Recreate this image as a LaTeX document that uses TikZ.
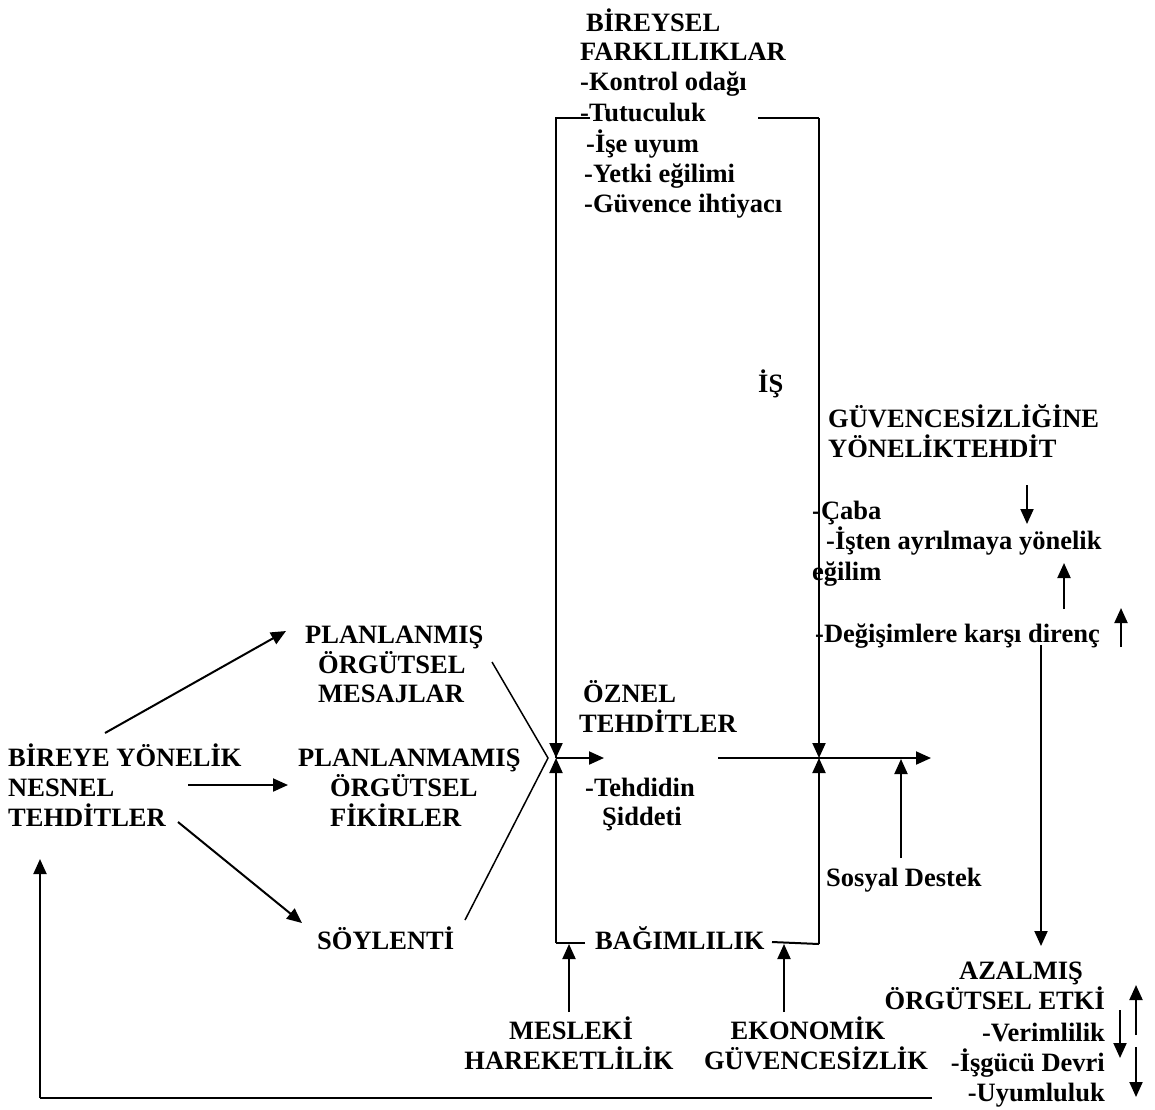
\documentclass[tikz,border=0pt]{standalone}
\usepackage{fontspec}
\setmainfont{Liberation Serif}
\usetikzlibrary{arrows.meta}
\begin{document}
\begin{tikzpicture}[x=1pt,y=-1pt,
  lbl/.style={font=\fontsize{26.5}{30}\selectfont\bfseries, inner sep=0pt, anchor=base west},
  lblr/.style={lbl, anchor=base east},
  lblc/.style={lbl, anchor=base},
  ln/.style={line width=2pt},
  thin/.style={line width=1.5pt},
  arr/.style={ln, -{Triangle[length=15pt,width=13pt]}}]
\useasboundingbox[fill=white] (0,0) rectangle (1155,1109);

% top block
\node[lbl] (b1) at (586,31) {BİREYSEL};
\node[lbl] (b2) at (580,60) {FARKLILIKLAR};
\node[lbl] (b3) at (580,90) {-Kontrol odağı};
\node[lbl] (b4) at (580,121) {-Tutuculuk};
\node[lbl] (b5) at (586,152) {-İşe uyum};
\node[lbl] (b6) at (584,182) {-Yetki eğilimi};
\node[lbl] (b7) at (584,212) {-Güvence ihtiyacı};

% right block
\node[lbl] (is) at (758,392) {İŞ};
\node[lbl] (g1) at (828,427) {GÜVENCESİZLİĞİNE};
\node[lbl] (g2) at (828,457) {YÖNELİKTEHDİT};
\node[lbl] (g3) at (812,519) {-Çaba};
\node[lbl] (g4) at (826,549) {-İşten ayrılmaya yönelik};
\node[lbl] (g5) at (812,580) {eğilim};
\node[lbl] (g6) at (815,642) {-Değişimlere karşı direnç};

% center
\node[lbl] (o1) at (583,702) {ÖZNEL};
\node[lbl] (o2) at (579,732) {TEHDİTLER};
\node[lbl] (o3) at (585,796) {-Tehdidin};
\node[lbl] (o4) at (602,825) {Şiddeti};

% left
\node[lbl] (n1) at (8,766) {BİREYE YÖNELİK};
\node[lbl] (n2) at (8,796) {NESNEL};
\node[lbl] (n3) at (8,826) {TEHDİTLER};

\node[lbl] (p1) at (305,643) {PLANLANMIŞ};
\node[lbl] (p2) at (318,673) {ÖRGÜTSEL};
\node[lbl] (p3) at (318,702) {MESAJLAR};

\node[lbl] (q1) at (298,766) {PLANLANMAMIŞ};
\node[lbl] (q2) at (330,796) {ÖRGÜTSEL};
\node[lbl] (q3) at (330,826) {FİKİRLER};

\node[lbl] (sy) at (317,949) {SÖYLENTİ};
\node[lbl] (bg) at (595,949) {BAĞIMLILIK};
\node[lbl] (sd) at (826,886) {Sosyal Destek};

\node[lblc] (m1) at (571,1039) {MESLEKİ};
\node[lblc] (m2) at (569,1069) {HAREKETLİLİK};
\node[lblc] (e1) at (808,1039) {EKONOMİK};
\node[lblc] (e2) at (816,1069) {GÜVENCESİZLİK};

\node[lblc] (a1) at (1021,979) {AZALMIŞ};
\node[lblr] (a2) at (1105,1009) {ÖRGÜTSEL ETKİ};
\node[lblr] (a3) at (1105,1041) {-Verimlilik};
\node[lblr] (a4) at (1105,1071) {-İşgücü Devri};
\node[lblr] (a5) at (1105,1101) {-Uyumluluk};

% coordinates
\coordinate (J1) at (556,758);
\coordinate (J2) at (819,758);
\coordinate (TL) at (556,118);
\coordinate (TLe) at (590,118);
\coordinate (TRs) at (758,118);
\coordinate (TR) at (819,118);
\coordinate (BL) at (556,943);
\coordinate (BLe) at (585,943);
\coordinate (BRs) at (772,942);
\coordinate (BR) at (819,944);
\coordinate (J1out) at (604,758);
\coordinate (Ls) at (718,758);
\coordinate (Le) at (931,758);
\coordinate (SDs) at (901,858);
\coordinate (SDe) at (901,759);
\coordinate (Mup) at (569,1012);
\coordinate (Mtip) at (569,944);
\coordinate (Eup) at (784,1012);
\coordinate (Etip) at (784,944);
\coordinate (Ms) at (492,662);
\coordinate (Ss) at (465,920);
\coordinate (Jc) at (548,758);
\coordinate (N1s) at (105,733);
\coordinate (N1e) at (286,631);
\coordinate (N2s) at (188,785);
\coordinate (N2e) at (288,785);
\coordinate (N3s) at (178,822);
\coordinate (N3e) at (302,923);
\coordinate (r1s) at (1027,485);
\coordinate (r1e) at (1027,524);
\coordinate (r2s) at (1064,609);
\coordinate (r2e) at (1064,563);
\coordinate (r3s) at (1121,647);
\coordinate (r3e) at (1121,608);
\coordinate (Vs) at (1041,645);
\coordinate (Ve) at (1041,946);
\coordinate (k1s) at (1136,1035);
\coordinate (k1e) at (1136,985);
\coordinate (k2s) at (1120,1010);
\coordinate (k2e) at (1120,1058);
\coordinate (k3s) at (1136,1047);
\coordinate (k3e) at (1136,1097);
\coordinate (Fs) at (932,1098);
\coordinate (Fc) at (40,1098);
\coordinate (Fe) at (40,859);

% bracket
\draw[ln] (TLe) -- (TL) -- (J1);
\draw[arr] (TL) -- (J1);
\draw[ln] (TRs) -- (TR);
\draw[arr] (TR) -- (J2);
\draw[ln] (BLe) -- (BL);
\draw[arr] (BL) -- (J1);
\draw[ln] (BRs) -- (BR);
\draw[arr] (BR) -- (J2);

\draw[arr] (J1) -- (J1out);
\draw[arr] (Ls) -- (Le);
\draw[arr] (SDs) -- (SDe);
\draw[arr] (Mup) -- (Mtip);
\draw[arr] (Eup) -- (Etip);

\draw[thin] (Ms) -- (Jc) -- (Ss);

\draw[arr] (N1s) -- (N1e);
\draw[arr] (N2s) -- (N2e);
\draw[arr] (N3s) -- (N3e);

\draw[arr] (r1s) -- (r1e);
\draw[arr] (r2s) -- (r2e);
\draw[arr] (r3s) -- (r3e);
\draw[arr] (Vs) -- (Ve);
\draw[arr] (k1s) -- (k1e);
\draw[arr] (k2s) -- (k2e);
\draw[arr] (k3s) -- (k3e);

\draw[ln] (Fs) -- (Fc);
\draw[arr] (Fc) -- (Fe);
\end{tikzpicture}
\end{document}
